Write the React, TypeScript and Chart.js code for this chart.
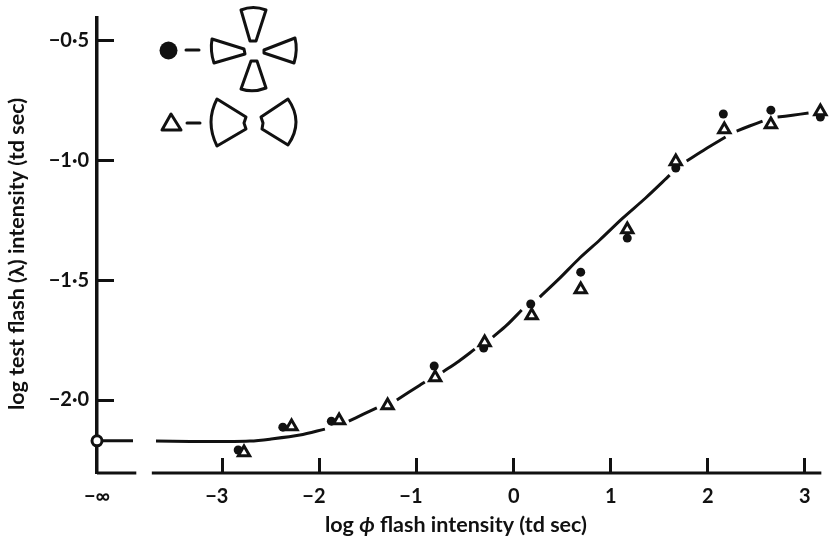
import React, { useEffect, useRef } from "react";
import { Chart, registerables } from "chart.js";

Chart.register(...registerables);

// ---- data ----
const INFINITY_X = -4.295;
const xTickValues = [INFINITY_X, -3, -2, -1, 0, 1, 2, 3];
const xTickLabels = ["−∞", "−3\u2007", "−2\u2007", "−1\u2007", "0", "1", "2", "3"];
const yTickValues = [-0.5, -1, -1.5, -2];
const yTickLabels = ["−0·5", "−1·0", "−1·5", "−2·0"];

const dotX = [-2.84, -2.38, -1.88, -0.82, -0.31, 0.175, 0.69, 1.17, 1.67, 2.16, 2.65, 3.16];
const dotY = [-2.208, -2.113, -2.088, -1.858, -1.783, -1.6, -1.467, -1.325, -1.033, -0.808, -0.792, -0.821];

const triX = [-2.78, -2.29, -1.8, -1.3, -0.81, -0.3, 0.185, 0.69, 1.17, 1.67, 2.17, 2.65, 3.16];
const triY = [-2.219, -2.11, -2.085, -2.023, -1.906, -1.76, -1.648, -1.539, -1.289, -1.006, -0.873, -0.852, -0.798];

// Fitted curve; null marks the breaks the engraver left around the symbols
const curveX = [-3.687, -3.337, -3.007, -2.719, -2.513, -2.204, -1.946, -1.8, -1.7, -1.555, -1.411, -1.3, -1.205, -0.968, -0.917, -0.81, -0.731, -0.566, -0.402, -0.3, -0.216, -0.072, 0.082, 0.185, 0.268, 0.474, 0.68, 0.886, 1.123, 1.359, 1.607, 1.67, 1.782, 1.977, 2.183, 2.24, 2.297, 2.43, 2.564, 2.65, 2.719, 2.873, 3.038];
const curveY = [-2.171, -2.173, -2.173, -2.171, -2.163, -2.146, -2.121, null, -2.088, -2.06, -2.033, null, -2.0, -1.938, -1.925, null, -1.883, -1.838, -1.788, null, -1.738, -1.688, -1.625, null, -1.571, -1.492, -1.408, -1.333, -1.242, -1.158, -1.063, null, -1.004, -0.954, -0.904, null, -0.879, -0.858, -0.838, null, -0.821, -0.813, -0.804];

const baseY = -2.304;
const baselineX = [INFINITY_X, -3.89, null, -3.73, 3.17];
const zeroStubX = [INFINITY_X, -3.924];
const zeroY = -2.17;

const FONT = "Lato, 'Open Sans', sans-serif";
const INK = "#111111";

const pts = (xs: (number | null)[], ys: (number | null)[]) => xs.map((x, i) => ({ x, y: ys[i] }));

const drawPath = (ctx: CanvasRenderingContext2D, d: string) => {
  ctx.stroke(new Path2D(d));
};

const noEdgePadding = (scale: any) => {
  scale.paddingLeft = 0;
  scale.paddingRight = 0;
  scale.paddingTop = 0;
  scale.paddingBottom = 0;
};

const annotations = {
  id: "annotations",
  afterDraw(chart: any) {
    const ctx: CanvasRenderingContext2D = chart.ctx;
    ctx.save();
    ctx.fillStyle = INK;
    ctx.strokeStyle = INK;
    ctx.lineJoin = "round";
    ctx.lineCap = "round";

    // Key
    ctx.beginPath();
    ctx.arc(168.5, 50.5, 9, 0, Math.PI * 2);
    ctx.fill();
    ctx.lineWidth = 3;
    drawPath(ctx, "M186 50 L199 50");
    drawPath(ctx, "M162 130 L181 130 L171 114 Z");
    drawPath(ctx, "M187 123 L200 123");
    // Four-wedge figure
    drawPath(ctx, "M241 10 Q253 5 266 10 L256 41 L250 41 Z");
    drawPath(ctx, "M212 39 L244 49 L245 54 L214 63 Q210 51 212 39 Z");
    drawPath(ctx, "M295 38 L264 50 L264 53 L294 63 Q298 50 295 38 Z");
    drawPath(ctx, "M251 61 L257 61 L266 88 Q253 93 241 89 Z");
    // Two-wedge figure
    drawPath(ctx, "M217 99 L246 117 L244 123 L246 129 L217 146 Q205 122 217 99 Z");
    drawPath(ctx, "M288 99 L261 117 L263 123 L262 129 L288 145 Q304 122 288 99 Z");

    // Axis titles
    ctx.textBaseline = "middle";
    const bold = `700 21.5px ${FONT}`;
    const ital = `italic 700 21.5px ${FONT}`;
    ctx.font = bold;
    const a = "log ";
    const c = " flash intensity (td sec)";
    const phi = "ϕ";
    const wa = ctx.measureText(a).width;
    const wc = ctx.measureText(c).width;
    ctx.font = ital;
    const wp = ctx.measureText(phi).width;
    let x = 456 - (wa + wp + wc) / 2;
    ctx.textAlign = "left";
    ctx.font = bold;
    ctx.fillText(a, x, 525);
    x += wa;
    ctx.font = ital;
    ctx.fillText(phi, x, 525);
    x += wp;
    ctx.font = bold;
    ctx.fillText(c, x, 525);

    ctx.translate(17, 254);
    ctx.rotate(-Math.PI / 2);
    ctx.textAlign = "center";
    ctx.fillText("log test flash (λ) intensity (td sec)", 0, 0);
    ctx.restore();
  },
};

export default function App() {
  const ref = useRef<HTMLCanvasElement | null>(null);

  useEffect(() => {
    const chart = new Chart(ref.current as HTMLCanvasElement, {
      type: "scatter",
      data: {
        datasets: [
          {
            label: "Two-wedge target",
            data: pts(triX, triY),
            pointStyle: "triangle",
            pointRadius: 6.5,
            pointBorderWidth: 3,
            pointBorderColor: INK,
            pointBackgroundColor: "#ffffff",
            clip: false,
          },
          {
            label: "Four-wedge target",
            data: pts(dotX, dotY),
            pointStyle: "circle",
            pointRadius: 4.5,
            pointBorderWidth: 0,
            pointBackgroundColor: INK,
            clip: false,
          },
          {
            label: "No flash",
            data: pts([INFINITY_X], [zeroY]),
            pointStyle: "circle",
            pointRadius: 5,
            pointBorderWidth: 3,
            pointBorderColor: INK,
            pointBackgroundColor: "#ffffff",
            clip: false,
          },
          {
            label: "Curve",
            data: pts(curveX, curveY),
            showLine: true,
            spanGaps: false,
            tension: 0.3,
            borderColor: INK,
            borderWidth: 3,
            pointRadius: 0,
            clip: false,
          },
          {
            label: "Zero stub",
            data: pts(zeroStubX, zeroStubX.map(() => zeroY)),
            showLine: true,
            borderColor: INK,
            borderWidth: 3,
            pointRadius: 0,
            clip: false,
          },
          {
            label: "Baseline",
            data: pts(baselineX, baselineX.map((v) => (v === null ? null : baseY))),
            showLine: true,
            spanGaps: false,
            borderColor: INK,
            borderWidth: 3,
            pointRadius: 0,
            clip: false,
          },
        ],
      },
      options: {
        animation: false,
        responsive: false,
        devicePixelRatio: 1,
        layout: { padding: { top: 18, right: 4, left: 0, bottom: 0 } },
        plugins: { legend: { display: false }, tooltip: { enabled: false }, title: { display: false } },
        scales: {
          x: {
            type: "linear",
            position: "bottom",
            min: INFINITY_X,
            max: 3.151,
            afterFit(scale: any) {
              scale.height = 63;
              noEdgePadding(scale);
            },
            afterBuildTicks(scale: any) {
              scale.ticks = xTickValues.map((value) => ({ value }));
            },
            border: { display: false },
            grid: {
              drawOnChartArea: false,
              drawTicks: true,
              tickLength: -15,
              tickColor: INK,
              tickWidth: (c: any) => (c.index === 0 ? 0 : 3),
            },
            ticks: {
              autoSkip: false,
              maxRotation: 0,
              minRotation: 0,
              padding: 27,
              color: INK,
              font: { family: FONT, size: 20, weight: "700" },
              callback: (_v: any, i: number) => xTickLabels[i],
            },
          },
          y: {
            type: "linear",
            position: "left",
            min: baseY,
            max: -0.408,
            afterFit(scale: any) {
              scale.width = 97;
              noEdgePadding(scale);
            },
            afterBuildTicks(scale: any) {
              scale.ticks = yTickValues.map((value) => ({ value }));
            },
            border: { display: true, color: INK, width: 3.5 },
            grid: {
              drawOnChartArea: false,
              drawTicks: true,
              tickLength: -17,
              tickColor: INK,
              tickWidth: 3,
            },
            ticks: {
              autoSkip: false,
              padding: 25,
              color: INK,
              font: { family: FONT, size: 20, weight: "700" },
              callback: (_v: any, i: number) => yTickLabels[i],
            },
          },
        },
      },
      plugins: [annotations],
    } as any);
    return () => chart.destroy();
  }, []);

  return (
    <div style={{ position: "fixed", left: 0, top: 0, width: 829, height: 536, background: "#fff" }}>
      <canvas ref={ref} width={829} height={536} style={{ display: "block" }} />
    </div>
  );
}
